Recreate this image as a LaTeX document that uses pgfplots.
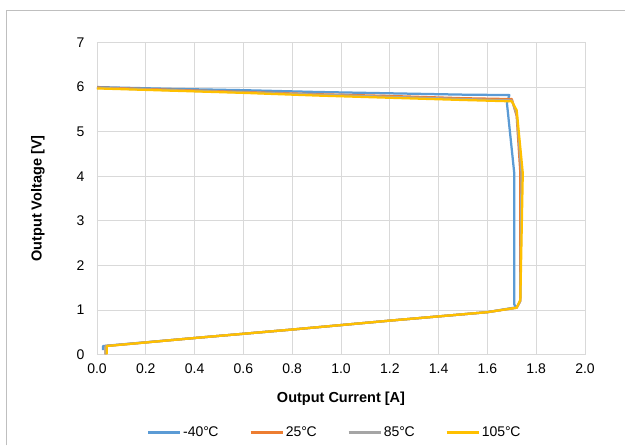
\documentclass[border=0pt]{standalone}
\usepackage{pgfplots}
\pgfplotsset{compat=1.18}
\usepackage{fontspec}
\setmainfont{Liberation Sans}
\definecolor{cblue}{HTML}{5B9BD5}
\definecolor{corange}{HTML}{ED7D31}
\definecolor{cgray}{HTML}{A5A5A5}
\definecolor{cyellow}{HTML}{FFC000}
\definecolor{gridc}{HTML}{D9D9D9}
\newcommand{\degC}{°\kern-0.5bp C}
\begin{document}
\begin{tikzpicture}[x=1bp,y=1bp]
\path[use as bounding box] (-97,-91) rectangle (528,354.5);
\begin{axis}[
  scale only axis, width=488bp, height=312bp,
  at={(0,0)}, anchor=south west,
  xmin=0, xmax=2, ymin=0, ymax=7,
  xtick={0,0.2,...,2.0}, ytick={0,1,...,7},
  xticklabel style={/pgf/number format/fixed,/pgf/number format/fixed zerofill,/pgf/number format/precision=1, yshift=-6bp},
  yticklabel style={xshift=-9bp},
  /pgf/number format/assume math mode=true,
  tick label style={font=\fontsize{14bp}{16bp}\selectfont, text=black},
  major tick length=0pt,
  grid=major, major grid style={gridc, line width=0.75bp},
  axis line style={gridc, line width=0.75bp},
  xlabel={\textbf{Output Current [A]}}, ylabel={\textbf{Output Voltage [V]}},
  label style={font=\fontsize{14.5bp}{17bp}\selectfont},
  xlabel style={at={(axis description cs:0.5,0)}, anchor=center, yshift=-44bp},
  ylabel style={at={(axis description cs:-0.121,0.5)}, anchor=center},
  legend columns=4,
  legend style={at={(axis description cs:0.487,-0.25)}, anchor=center, draw=none, fill=none,
    font=\fontsize{14bp}{16bp}\selectfont,
    /tikz/every even column/.append style={column sep=29bp}},
  legend image code/.code={\draw[#1, line width=2.25bp] (0bp,0bp) -- (32bp,0bp);},
  every axis plot/.append style={line width=2.25bp, line join=round},
]
\addplot[cblue, no marks] coordinates {
(0.00,6.00) (0.30,5.96) (0.60,5.93) (0.90,5.89) (1.20,5.86) (1.50,5.83) (1.69,5.82)
(1.68,5.64) (1.71,4.07) (1.71,1.12) (1.72,1.06) (1.60,0.95) (1.20,0.76) (0.80,0.56)
(0.40,0.37) (0.025,0.19) (0.025,0.10)};
\addlegendentry{-40\degC}
\addplot[corange, no marks] coordinates {
(0.00,5.99) (0.30,5.94) (0.60,5.89) (0.90,5.84) (1.20,5.80) (1.50,5.75) (1.70,5.73)
(1.72,5.35) (1.735,4.07) (1.735,1.20) (1.72,1.05) (1.60,0.95) (1.20,0.76) (0.80,0.56)
(0.40,0.37) (0.035,0.19) (0.035,0.00)};
\addlegendentry{25\degC}
\addplot[cgray, no marks] coordinates {
(0.00,5.98) (0.30,5.93) (0.60,5.88) (0.90,5.83) (1.20,5.78) (1.50,5.73) (1.70,5.70)
(1.72,5.40) (1.74,4.07) (1.735,1.20) (1.72,1.05) (1.60,0.95) (1.20,0.76) (0.80,0.56)
(0.40,0.37) (0.035,0.19) (0.035,0.00)};
\addlegendentry{85\degC}
\addplot[cyellow, no marks] coordinates {
(0.00,5.97) (0.30,5.92) (0.60,5.87) (0.90,5.81) (1.20,5.76) (1.50,5.71) (1.70,5.68)
(1.72,5.48) (1.745,4.07) (1.735,1.23) (1.72,1.05) (1.60,0.95) (1.20,0.76) (0.80,0.56)
(0.40,0.37) (0.04,0.19) (0.04,0.00)};
\addlegendentry{105\degC}
\end{axis}
\draw[gray!50, line width=1bp] (-90,-91) -- (-90,343.5) -- (528,343.5);
\end{tikzpicture}
\end{document}
